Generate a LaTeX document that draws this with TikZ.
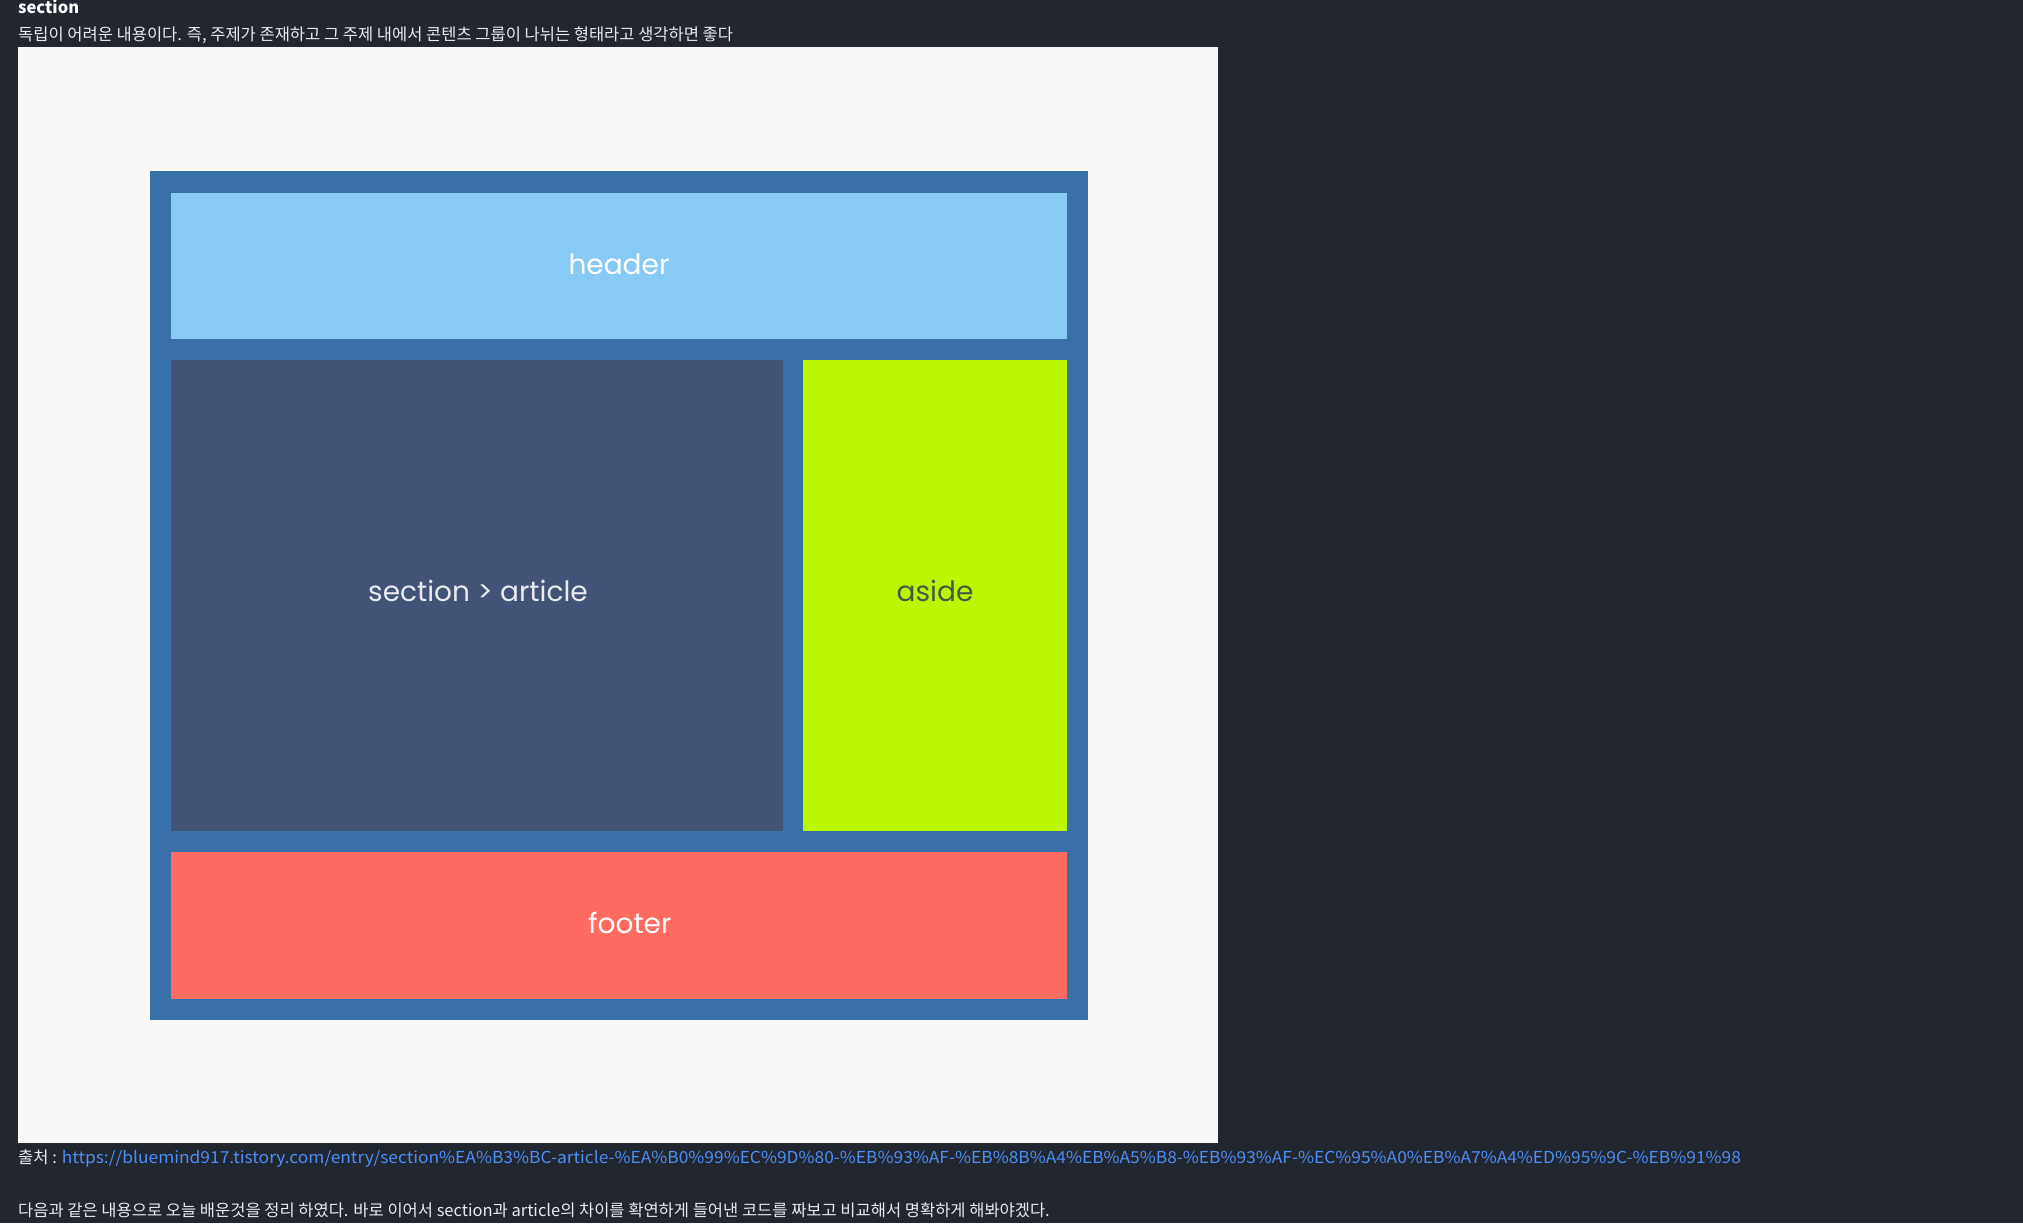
\documentclass[tikz,border=0pt]{standalone}
\usepackage{fontspec}
\setmainfont{Noto Sans CJK KR}
\newfontfamily\geo{Poppins}
\newfontfamily\kr{Noto Sans CJK KR}
\newfontfamily\krlink[FakeStretch=1.053]{Noto Sans CJK KR}
\definecolor{bg}{HTML}{22262E}
\definecolor{panel}{HTML}{F8F8F6}
\definecolor{frame}{HTML}{3A70A9}
\definecolor{hdr}{HTML}{88CAF6}
\definecolor{art}{HTML}{435378}
\definecolor{asd}{HTML}{BBF700}
\definecolor{ftr}{HTML}{FF6B60}
\definecolor{asidetext}{HTML}{4A5848}
\definecolor{linkc}{HTML}{4C8DF6}
\definecolor{txt}{HTML}{E8EAEE}
\tikzset{
  box/.style={draw=none, inner sep=0pt, outer sep=0pt},
  lbl/.style={inner sep=0pt, font=\geo\fontsize{28}{32}\selectfont},
  line/.style={anchor=base west, inner sep=0pt, text=txt, font=\kr\fontsize{16.5}{20}\selectfont}
}
\begin{document}
\begin{tikzpicture}[x=1pt, y=-1pt]
  \fill[bg] (0,0) rectangle (2023,1223);
  \useasboundingbox (0,0) rectangle (2023,1223);
  \node[box, fill=panel, minimum width=1200pt, minimum height=1096pt] (panel) at (618,595) {};
  \node[box, fill=frame, minimum width=938pt, minimum height=849pt] (frame) at (619,595.5) {};
  \node[box, fill=hdr, minimum width=896pt, minimum height=146pt] (header) at (619,266) {};
  \node[box, fill=art, minimum width=612pt, minimum height=471pt] (article) at (477,595.5) {};
  \node[box, fill=asd, minimum width=264pt, minimum height=471pt] (aside) at (935,595.5) {};
  \node[box, fill=ftr, minimum width=896pt, minimum height=147pt] (footer) at (619,925.5) {};
  \node[lbl, text=white] (headerlabel) at (619,264) {header};
  \node[lbl, text=txt] (articlelabel) at (478,591) {section > article};
  \node[lbl, text=asidetext] (asidelabel) at (935,591) {aside};
  \node[lbl, text=white] (footerlabel) at (630,923) {footer};
  \node[line, font=\kr\bfseries\fontsize{16.5}{20}\selectfont, text=white] (title) at (18,14) {section};
  \node[line] (desc) at (18,41) {독립이 어려운 내용이다. 즉, 주제가 존재하고 그 주제 내에서 콘텐츠 그룹이 나뉘는 형태라고 생각하면 좋다};
  \node[line] (src) at (18,1163) {출처 : \textcolor{linkc}{\krlink https://bluemind917.tistory.com/entry/section\%EA\%B3\%BC-article-\%EA\%B0\%99\%EC\%9D\%80-\%EB\%93\%AF-\%EB\%8B\%A4\%EB\%A5\%B8-\%EB\%93\%AF-\%EC\%95\%A0\%EB\%A7\%A4\%ED\%95\%9C-\%EB\%91\%98}};
  \node[line] (summary) at (18,1216) {다음과 같은 내용으로 오늘 배운것을 정리 하였다. 바로 이어서 section과 article의 차이를 확연하게 들어낸 코드를 짜보고 비교해서 명확하게 해봐야겠다.};
\end{tikzpicture}
\end{document}
